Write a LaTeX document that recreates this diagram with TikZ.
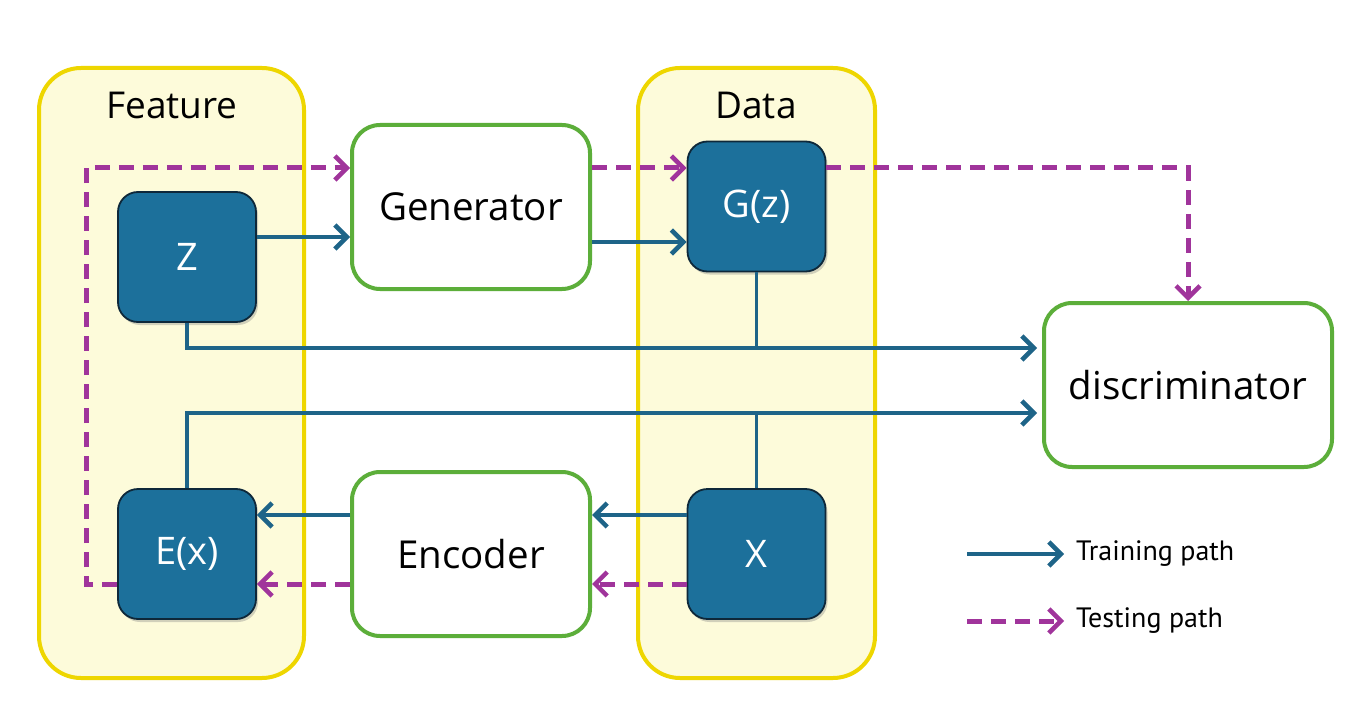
\documentclass[tikz,border=0pt]{standalone}
\usepackage{fontspec}
\setmainfont{Open Sans}
\newfontfamily\legfont{PT Sans}
\usetikzlibrary{arrows.meta,shadows}
\definecolor{boxblue}{RGB}{28,112,155}
\definecolor{boxedge}{RGB}{14,40,58}
\definecolor{arrblue}{RGB}{30,100,136}
\definecolor{testmag}{RGB}{160,52,155}
\definecolor{grn}{RGB}{92,174,58}
\definecolor{yel}{RGB}{238,214,0}
\definecolor{yelfill}{RGB}{253,251,218}
\tikzset{
  panel/.style={draw=yel, fill=yelfill, line width=4pt, rounded corners=42pt},
  panellabel/.style={font=\fontsize{37}{42}\selectfont, text=black},
  bluebox/.style={draw=boxedge, fill=boxblue, line width=1.8pt, rounded corners=20pt,
     minimum width=138pt, minimum height=130pt, text=white,
     font=\fontsize{38}{42}\selectfont,
     drop shadow={opacity=0.35, shadow xshift=2pt, shadow yshift=-3pt}},
  greenbox/.style={draw=grn, fill=white, line width=4pt, rounded corners=28pt,
     minimum width=238pt, minimum height=164pt, text=black,
     font=\fontsize{38.5}{42}\selectfont},
  barb/.style={-{Straight Barb[length=12pt,width=24pt,line width=4.5pt]}},
  train/.style={draw=arrblue, line width=3.8pt, barb},
  trainline/.style={draw=arrblue, line width=3.8pt},
  test/.style={draw=testmag, line width=5pt, dash pattern=on 15pt off 9pt, barb},
  legtext/.style={anchor=west, inner sep=0pt, font=\legfont\fontsize{28}{32}\selectfont, text=black}
}
\begin{document}
\begin{tikzpicture}[x=1pt,y=-1pt]
\useasboundingbox[fill=white] (0,0) rectangle (1359,703);
% panels
\node[panel, minimum width=265pt, minimum height=610pt] (featpanel) at (171.5,373) {};
\node[panel, minimum width=237pt, minimum height=610pt] (datapanel) at (756.5,373) {};
\node[panellabel] (featlabel) at (172,105) {Feature};
\node[panellabel] (datalabel) at (756,105) {Data};
% boxes
\node[bluebox] (z) at (187,257) {Z};
\node[bluebox] (ex) at (187,554) {E(x)};
\node[bluebox] (gz) at (756.5,206.5) {G(z)};
\node[bluebox] (x) at (756.5,554) {X};
\node[greenbox] (gen) at (471,207) {Generator};
\node[greenbox] (enc) at (471,554) {Encoder};
\node[greenbox, minimum width=288pt] (disc) at (1188,385) {discriminator};
% helper coordinates
\coordinate (dtop) at ([yshift=37pt]disc.west);
\coordinate (dbot) at ([yshift=-28pt]disc.west);
\coordinate (loopx) at (86,0);
% training paths
\draw[train] ([yshift=20pt]z.east) -- ([yshift=20pt]z.east -| gen.west);
\draw[train] ([yshift=-35pt]gen.east) -- ([yshift=-35pt]gen.east -| gz.west);
\draw[train] (z.south) |- ([xshift=-5pt]dtop);
\draw[trainline] (gz.south) -- (gz.south |- dtop);
\draw[train] (ex.north) |- ([xshift=-5pt]dbot);
\draw[trainline] (x.north) -- (x.north |- dbot);
\draw[train] ([yshift=39pt]enc.west) -- ([yshift=39pt]enc.west -| ex.east);
\draw[train] ([yshift=39pt]x.west) -- ([yshift=39pt]x.west -| enc.east);
% testing paths
\draw[test] ([yshift=39pt]gen.east) -- ([yshift=39pt]gen.east -| gz.west);
\draw[test] ([yshift=-30pt]enc.west) -- ([yshift=-30pt]enc.west -| ex.east);
\draw[test] ([yshift=-30pt]x.west) -- ([yshift=-30pt]x.west -| enc.east);
\draw[test] ([yshift=-30pt]ex.west) -- ([yshift=-30pt]ex.west -| loopx) |- ([yshift=39pt]gen.west);
\draw[test] ([yshift=39pt]gz.east) -| (disc.north);
% legend
\node[legtext] (ltrain) at (1076,554) {Training path};
\node[legtext] (ltest) at (1076,621) {Testing path};
\coordinate (la) at (967,554);
\coordinate (lb) at (967,621);
\draw[train] (la) -- ([xshift=-12pt]ltrain.west);
\draw[test] (lb) -- ([xshift=-12pt]ltest.west);
\end{tikzpicture}
\end{document}
